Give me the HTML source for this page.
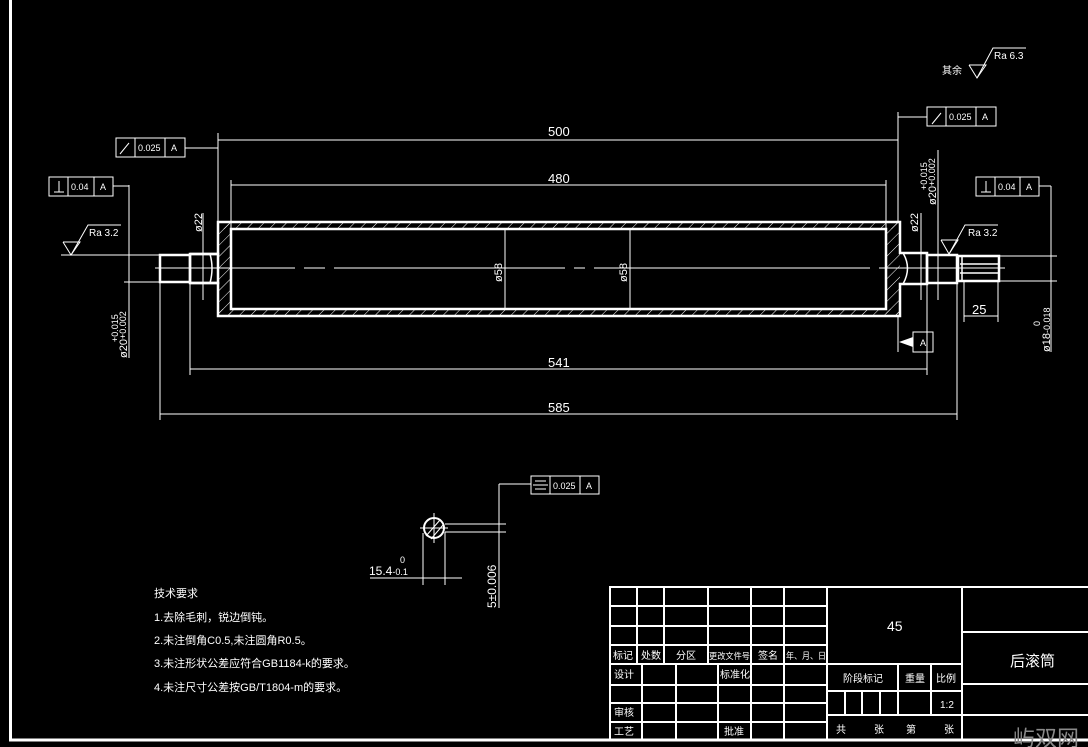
<!DOCTYPE html>
<html><head><meta charset="utf-8"><style>
html,body{margin:0;padding:0;background:#000;}
svg{display:block}
text{fill:#fff;font-family:"Liberation Sans","Noto Sans CJK SC",sans-serif;}
</style></head><body>
<svg width="1088" height="747" viewBox="0 0 1088 747" xmlns="http://www.w3.org/2000/svg">
<defs>
<pattern id="h" width="8" height="8" patternUnits="userSpaceOnUse" patternTransform="rotate(45)">
<line x1="0" y1="0" x2="0" y2="8" stroke="#fff" stroke-width="1"/>
</pattern>
</defs>
<rect width="1088" height="747" fill="#000"/>
<line x1="10.5" y1="0" x2="10.5" y2="741" stroke="#fff" stroke-width="3"/>
<line x1="9" y1="740" x2="1088" y2="740" stroke="#fff" stroke-width="3"/>

<rect x="218" y="222" width="682" height="7" fill="url(#h)"/>
<rect x="218" y="309" width="682" height="7" fill="url(#h)"/>
<rect x="218" y="222" width="13" height="94" fill="url(#h)"/>
<rect x="886" y="222" width="14" height="94" fill="url(#h)"/>
<rect x="231" y="229" width="655" height="80" fill="#000"/>

<g stroke="#fff" fill="none" stroke-width="2.5">
<polyline points="190,254 218,254 218,222 900,222 900,253 927,253 927,284 900,284 900,316 218,316 218,283 190,283"/>
<rect x="231" y="229" width="655" height="80"/>
<rect x="190" y="254" width="28" height="29"/>
<rect x="160" y="255" width="30" height="27"/>
<rect x="927" y="255" width="30" height="28"/>
<rect x="958" y="256" width="41" height="25"/>
</g>
<g stroke="#fff" fill="none" stroke-width="1.5">
<line x1="960" y1="264" x2="999" y2="264"/>
<line x1="960" y1="273" x2="999" y2="273"/>
<line x1="962" y1="256" x2="962" y2="281"/>
<path d="M210,254 Q214,268 210,283"/>
<path d="M903,253 Q912,268 903,284"/>
</g>

<g stroke="#fff" stroke-width="1" fill="none">
<line x1="155" y1="268" x2="295" y2="268"/>
<line x1="304" y1="268" x2="325" y2="268"/>
<line x1="334" y1="268" x2="565" y2="268"/>
<line x1="574" y1="268" x2="585" y2="268"/>
<line x1="594" y1="268" x2="870" y2="268"/>
<line x1="879" y1="268" x2="1005" y2="268"/>
<line x1="218" y1="133" x2="218" y2="222"/>
<line x1="898" y1="112" x2="898" y2="222"/>
<line x1="218" y1="140" x2="898" y2="140"/>
<line x1="231" y1="180" x2="231" y2="229"/>
<line x1="886" y1="180" x2="886" y2="229"/>
<line x1="231" y1="185" x2="886" y2="185"/>
<line x1="190" y1="283" x2="190" y2="375"/>
<line x1="927" y1="284" x2="927" y2="375"/>
<line x1="190" y1="369" x2="927" y2="369"/>
<line x1="160" y1="282" x2="160" y2="420"/>
<line x1="957" y1="283" x2="957" y2="420"/>
<line x1="160" y1="414" x2="957" y2="414"/>
<line x1="505" y1="229" x2="505" y2="309"/>
<line x1="630" y1="229" x2="630" y2="309"/>
<line x1="203" y1="213" x2="203" y2="300"/>
<line x1="129" y1="185" x2="129" y2="358"/>
<line x1="124" y1="282" x2="160" y2="282"/>
<line x1="61" y1="255" x2="160" y2="255"/>
<polyline points="63,242 80,242 71,255 63,242"/>
<polyline points="71,255 88,225 121,225"/>
<rect x="116" y="138" width="69" height="19"/>
<line x1="135" y1="138" x2="135" y2="157"/>
<line x1="165" y1="138" x2="165" y2="157"/>
<line x1="185" y1="148" x2="218" y2="148"/>
<rect x="49" y="177" width="64" height="19"/>
<line x1="68" y1="177" x2="68" y2="196"/>
<line x1="94" y1="177" x2="94" y2="196"/>
<line x1="113" y1="186" x2="129" y2="186"/>
<line x1="54" y1="192" x2="64" y2="192"/><line x1="59" y1="181" x2="59" y2="192"/>
<line x1="120" y1="154" x2="129" y2="143"/>

<rect x="927" y="107" width="69" height="19"/>
<line x1="946" y1="107" x2="946" y2="126"/>
<line x1="976" y1="107" x2="976" y2="126"/>
<line x1="898" y1="117" x2="927" y2="117"/>
<line x1="932" y1="124" x2="941" y2="113"/>
<line x1="938" y1="150" x2="938" y2="300"/>
<line x1="921" y1="213" x2="921" y2="300"/>
<rect x="976" y="177" width="63" height="19"/>
<line x1="995" y1="177" x2="995" y2="196"/>
<line x1="1020" y1="177" x2="1020" y2="196"/>
<line x1="1039" y1="186" x2="1051" y2="186"/>
<line x1="1051" y1="186" x2="1051" y2="352"/>
<line x1="981" y1="192" x2="991" y2="192"/><line x1="986" y1="181" x2="986" y2="192"/>
<line x1="999" y1="256" x2="1057" y2="256"/>
<line x1="999" y1="281" x2="1057" y2="281"/>
<polyline points="941,240 958,240 949,254 941,240"/>
<polyline points="949,254 965,225 998,225"/>
<line x1="964" y1="281" x2="964" y2="322"/>
<line x1="998" y1="281" x2="998" y2="322"/>
<line x1="964" y1="316" x2="998" y2="316"/>
<line x1="898" y1="316" x2="898" y2="352"/>
<rect x="913" y="332" width="20" height="20"/>
<polyline points="969,65 986,65 977,78 969,65"/>
<polyline points="977,78 993,48 1026,48"/>

<circle cx="434" cy="528" r="10" stroke-width="2"/>
<line x1="420" y1="528" x2="448" y2="528"/>
<line x1="434" y1="513" x2="434" y2="543"/>
<line x1="426" y1="536" x2="440" y2="520"/>
<line x1="431" y1="539" x2="443" y2="525"/>
<line x1="445" y1="524" x2="506" y2="524"/>
<line x1="445" y1="532" x2="506" y2="532"/>
<line x1="499" y1="484" x2="499" y2="608"/>
<line x1="499" y1="484" x2="531" y2="484"/>
<rect x="531" y="476" width="68" height="18"/>
<line x1="550" y1="476" x2="550" y2="494"/>
<line x1="580" y1="476" x2="580" y2="494"/>
<line x1="535" y1="481" x2="546" y2="481"/><line x1="533" y1="485" x2="548" y2="485"/><line x1="535" y1="489" x2="546" y2="489"/>
<line x1="423" y1="533" x2="423" y2="585"/>
<line x1="445" y1="532" x2="445" y2="585"/>
<line x1="370" y1="578" x2="462" y2="578"/>
</g>
<polygon points="899,342 913,337 913,347" fill="#fff"/>

<g font-size="13">
<text x="548" y="136">500</text>
<text x="548" y="183">480</text>
<text x="548" y="367">541</text>
<text x="548" y="412">585</text>
<text x="972" y="314">25</text>
</g>
<g font-size="9">
<text x="138" y="151">0.025</text>
<text x="171" y="151">A</text>
<text x="71" y="190">0.04</text>
<text x="100" y="190">A</text>
<text x="949" y="120">0.025</text>
<text x="982" y="120">A</text>
<text x="998" y="190">0.04</text>
<text x="1026" y="190">A</text>
<text x="920" y="346">A</text>
<text x="553" y="489">0.025</text>
<text x="586" y="489">A</text>
<text x="89" y="236" font-size="10">Ra 3.2</text>
<text x="968" y="236" font-size="10">Ra 3.2</text>
<text x="994" y="59" font-size="10">Ra 6.3</text>
<text x="942" y="74" font-size="10">其余</text>
</g>
<g font-size="11">
<text transform="translate(202,232) rotate(-90)">ø22</text>
<text transform="translate(918,232) rotate(-90)">ø22</text>
<text transform="translate(502,282) rotate(-90)">ø58</text>
<text transform="translate(627,282) rotate(-90)">ø58</text>
<text transform="translate(127,358) rotate(-90)">ø20<tspan font-size="9" dy="-1">+0.002</tspan></text>
<text transform="translate(118,342) rotate(-90)" font-size="9">+0.015</text>
<text transform="translate(936,205) rotate(-90)">ø20<tspan font-size="9" dy="-1">+0.002</tspan></text>
<text transform="translate(927,190) rotate(-90)" font-size="9">+0.015</text>
<text transform="translate(1050,352) rotate(-90)">ø18<tspan font-size="9">-0.018</tspan></text>
<text transform="translate(1040,326) rotate(-90)" font-size="9">0</text>
<text transform="translate(496,608) rotate(-90)" font-size="12">5±0.006</text>
<text x="369" y="575" font-size="12">15.4<tspan font-size="9">-0.1</tspan></text>
<text x="400" y="563" font-size="9">0</text>
</g>

<g font-size="11">
<text x="154" y="597">技术要求</text>
<text x="154" y="621">1.去除毛刺，锐边倒钝。</text>
<text x="154" y="644">2.未注倒角C0.5,未注圆角R0.5。</text>
<text x="154" y="667">3.未注形状公差应符合GB1184-k的要求。</text>
<text x="154" y="691">4.未注尺寸公差按GB/T1804-m的要求。</text>
</g>

<g stroke="#fff" stroke-width="2" fill="none">
<rect x="610" y="587" width="480" height="153"/>
<line x1="827" y1="587" x2="827" y2="740"/>
<line x1="962" y1="587" x2="962" y2="740"/>
<line x1="610" y1="606" x2="827" y2="606"/>
<line x1="610" y1="626" x2="827" y2="626"/>
<line x1="610" y1="645" x2="827" y2="645"/>
<line x1="610" y1="664" x2="827" y2="664"/>
<line x1="610" y1="685" x2="827" y2="685"/>
<line x1="610" y1="703" x2="827" y2="703"/>
<line x1="610" y1="722" x2="827" y2="722"/>
<line x1="637" y1="587" x2="637" y2="664"/>
<line x1="664" y1="587" x2="664" y2="664"/>
<line x1="708" y1="587" x2="708" y2="664"/>
<line x1="751" y1="587" x2="751" y2="740"/>
<line x1="784" y1="587" x2="784" y2="740"/>
<line x1="642" y1="664" x2="642" y2="740"/>
<line x1="676" y1="664" x2="676" y2="740"/>
<line x1="718" y1="664" x2="718" y2="740"/>
<line x1="827" y1="664" x2="962" y2="664"/>
<line x1="827" y1="691" x2="962" y2="691"/>
<line x1="827" y1="715" x2="962" y2="715"/>
<line x1="898" y1="664" x2="898" y2="715"/>
<line x1="931" y1="664" x2="931" y2="715"/>
<line x1="845" y1="691" x2="845" y2="715"/>
<line x1="862" y1="691" x2="862" y2="715"/>
<line x1="880" y1="691" x2="880" y2="715"/>
<line x1="962" y1="632" x2="1088" y2="632"/>
<line x1="962" y1="684" x2="1088" y2="684"/>
<line x1="962" y1="715" x2="1088" y2="715"/>
</g>
<g font-size="10">
<text x="613" y="659">标记</text>
<text x="641" y="659">处数</text>
<text x="676" y="659">分区</text>
<text x="709" y="659" font-size="8.5" textLength="41" lengthAdjust="spacingAndGlyphs">更改文件号</text>
<text x="758" y="659">签名</text>
<text x="786" y="659" font-size="9" textLength="40" lengthAdjust="spacingAndGlyphs">年、月、日</text>
<text x="614" y="678">设计</text>
<text x="720" y="678">标准化</text>
<text x="614" y="716">审核</text>
<text x="614" y="735">工艺</text>
<text x="724" y="735">批准</text>
<text x="843" y="682">阶段标记</text>
<text x="905" y="682">重量</text>
<text x="936" y="682">比例</text>
<text x="940" y="708">1:2</text>
<text x="836" y="733">共</text>
<text x="874" y="733">张</text>
<text x="906" y="733">第</text>
<text x="944" y="733">张</text>
</g>
<text x="887" y="631" font-size="14">45</text>
<text x="1010" y="666" font-size="15">后滚筒</text>
<text x="1013" y="746" font-size="22" style="fill:#8a8a8a">屿双网</text>
</svg>
</body></html>
